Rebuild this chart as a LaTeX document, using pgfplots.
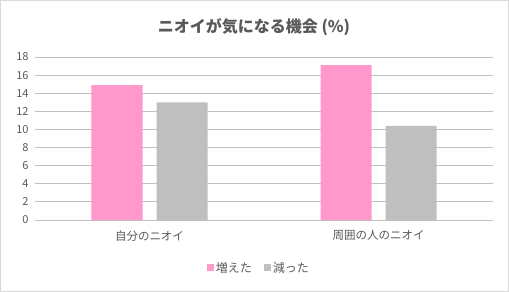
\documentclass[border=0pt]{standalone}
\usepackage{pgfplots}
\pgfplotsset{compat=1.18}
\usepackage{fontspec}
\setmainfont{Noto Sans CJK JP}
\definecolor{pinkbar}{HTML}{FF99CC}
\definecolor{graybar}{HTML}{BFBFBF}
\definecolor{txt}{HTML}{595959}
\definecolor{grid}{HTML}{D9D9D9}
\begin{document}
\begin{tikzpicture}[x=1pt,y=1pt]
\draw[grid, line width=1pt, fill=white] (0.5,0.5) rectangle (508.5,291.5);
\node[text=txt, font=\fontsize{16}{18}\selectfont\bfseries] at (254,265) {ニオイが気になる機会 (\%)};
\begin{axis}[
  at={(35pt,72pt)}, anchor=south west,
  scale only axis, width=458pt, height=163pt,
  xmin=-0.5, xmax=1.5, ymin=0, ymax=18,
  ytick={0,2,...,18},
  xtick={0,1}, xticklabels={自分のニオイ,周囲の人のニオイ},
  xmajorgrids=false, ymajorgrids=true, grid style={grid, line width=0.8pt},
  axis line style={draw=none},
  xtick style={draw=none}, ytick style={draw=none},
  major tick length=0pt,
  tick label style={text=txt, font=\fontsize{11}{12}\selectfont},
  /pgf/number format/assume math mode=true,
  xticklabel style={yshift=-7pt, font=\fontsize{11.5}{13}\selectfont},
  yticklabel style={xshift=-3pt},
  ybar, bar width=51pt,
  legend style={at={(0.489,-0.294)}, anchor=center, draw=none, fill=none,
    legend columns=2, font=\fontsize{12}{13}\selectfont, text=txt,
    /tikz/every even column/.append style={column sep=10pt}},
  legend image code/.code={\fill[#1] (0pt,-3.5pt) rectangle (7pt,3.5pt);},
]
\addplot[fill=pinkbar, draw=none, bar shift=-32.5pt] coordinates {(0,14.9) (1,17.1)};
\addplot[fill=graybar, draw=none, bar shift=32.5pt] coordinates {(0,13.0) (1,10.4)};
\legend{増えた,減った}
\end{axis}
\end{tikzpicture}
\end{document}
